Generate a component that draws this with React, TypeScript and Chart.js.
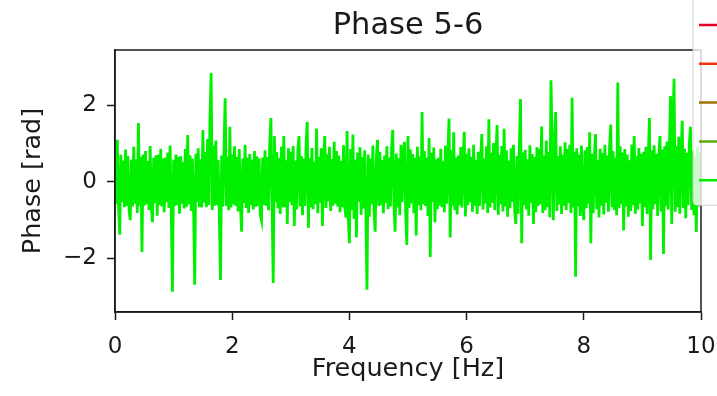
import { useEffect, useRef } from "react";
import { Chart, registerables } from "chart.js";

Chart.register(...registerables);

// Spectrum bin spacing of the phase series, in Hz
const FREQ_STEP = 0.02;

// Phase difference between channels 5 and 6, one value per bin (0 … 10 Hz)
const phase56: number[] = [
  0.62, -0.58, 1.1, -0.61, -1.38, 0.71, -0.52, 0.56, -0.66, 0.85, -0.63, 0.68, -0.74, -1.0, 0.58, -0.64, 0.92, -0.57, 0.59, -0.81, 1.54, -0.62, 0.66, -1.83, 0.72,
  -0.62, 0.81, -0.58, 0.55, -0.73, 0.94, -0.66, -1.05, 0.63, -0.55, 0.7, -0.88, 0.71, -0.6, 0.87, -0.64, 0.62, -0.79, 0.64, -0.53, 0.77, -0.68, 0.95, -0.71, -2.87,
  0.58, -0.63, 0.72, -0.61, 0.66, -0.83, 0.67, -0.57, 0.52, -0.69, 0.86, -0.65, 1.23, -0.58, 0.7, -0.76, 0.61, -0.62, -2.69, 0.74, -0.52, 0.88, -0.66, 0.59, -0.67,
  1.36, -0.54, 0.78, -0.66, 1.12, -0.6, 1.6, 2.85, -0.73, 0.95, -0.62, 1.08, -0.61, 0.57, -0.82, -2.56, 0.69, -0.64, 0.84, 2.19, -0.63, 0.66, -0.74, 1.44, -0.67,
  0.72, -0.59, 0.93, -0.63, 0.65, -0.77, 0.86, -0.6, -1.3, 0.61, -0.55, 0.97, -0.68, 0.64, -0.81, 0.73, -0.61, 0.58, -0.72, 0.81, -0.65, 0.67, -0.63, 0.62, -0.86,
  -1.0, 0.64, -0.6, 0.83, -0.62, 0.65, -0.74, 0.96, 1.67, -0.58, -2.64, 1.2, -0.53, 0.78, -0.69, 0.63, -0.84, 0.92, -0.66, 1.2, -0.66, 0.57, -1.1, 0.88, -0.52,
  0.79, -0.61, 0.94, -1.15, 0.56, -0.72, 0.83, 1.2, -0.64, 0.68, -0.87, 0.61, -0.63, 0.97, 1.57, -1.2, 0.62, -0.66, 0.89, -0.71, 0.53, -0.58, 1.4, -0.82, 0.66,
  -0.54, 0.88, -1.15, 0.63, 1.2, -0.68, 0.73, -0.51, 0.92, -0.76, 0.6, -0.62, 1.05, -0.57, 0.81, -0.64, 0.69, -0.79, 0.55, -0.66, 0.96, -0.63, -0.93, 1.33, -0.88,
  -1.6, 0.86, -0.74, 1.24, -0.97, 0.58, -1.45, 0.77, -0.52, 0.91, -0.86, 0.65, -0.69, 0.83, -0.62, -2.82, 0.72, -0.91, 0.61, -0.58, 0.95, -0.77, -1.3, 0.66, 1.1,
  -0.63, 0.79, -0.61, 0.57, -0.82, 0.69, -0.55, 0.93, -0.71, 0.64, -0.64, 0.88, 1.36, -0.59, -1.3, 0.74, -0.67, 0.62, -0.87, 0.97, -0.53, 0.71, 1.05, -0.76, -1.65,
  1.2, -0.68, 0.85, -0.56, 0.73, -0.82, 0.63, -1.4, 0.92, -0.61, 0.67, -0.74, 1.83, -0.58, 0.81, -0.63, 0.64, -0.89, 1.15, -1.96, 0.76, -0.52, 0.9, -1.05, 0.59,
  -0.71, 0.63, -0.62, 0.87, -0.66, 0.54, -0.79, 0.95, -0.57, 0.72, 1.66, -1.45, 0.83, -0.62, 1.3, -0.74, 0.64, -0.85, 0.69, -0.61, 0.91, -0.67, 0.58, 1.31, -0.9,
  0.74, -0.61, 0.88, -0.53, 0.66, -0.78, 0.97, -0.62, 0.57, -0.84, 0.79, -0.63, 0.64, 1.25, -0.72, 0.61, -0.56, 0.93, -0.81, 1.64, -0.67, 0.76, -0.54, 1.02, -0.73,
  0.62, 1.49, -0.86, 0.71, -0.58, 0.94, -0.77, 1.39, -0.64, 0.83, -0.91, 0.56, -0.69, 0.88, -0.52, 0.97, -0.74, -1.1, 0.68, -0.83, 0.92, 2.17, -1.6, 0.77, -0.61,
  0.84, -0.72, 0.59, -0.88, 0.96, -0.55, 0.73, -1.1, 0.65, -0.79, 0.91, -0.63, 0.87, -0.58, 1.45, -0.81, 0.69, -0.74, 1.08, -0.66, 0.78, -0.92, 2.66, 0.95, -1.0,
  1.1, 1.83, -0.76, 0.68, -0.59, 0.93, -0.84, 0.71, -0.62, 1.04, -0.73, 0.86, -0.55, 0.97, -0.81, 2.2, -0.67, 0.79, -2.48, 0.88, -0.64, 0.72, -0.89, 0.95, -0.58,
  -1.0, 0.83, -0.69, 0.91, -0.57, 1.3, -1.6, 0.74, -0.82, 0.66, 1.25, -0.71, 0.58, -0.93, 0.87, -0.62, 0.76, -0.85, 0.97, -0.54, 0.69, -0.78, 0.92, 1.5, -0.66,
  0.81, -0.73, 0.64, -0.87, 2.6, -0.69, 0.93, -0.58, 0.77, -1.27, 0.86, -0.64, 0.72, -0.91, 0.57, -0.76, 0.98, -0.61, 1.2, -0.83, 0.67, -0.72, 0.89, -0.56, 0.74,
  -1.15, 0.79, -0.66, 0.92, -0.84, 0.61, 1.67, -2.04, 0.83, -0.71, 0.96, -0.58, 0.74, -0.89, 0.68, 1.2, -0.77, 0.85, -1.88, 0.93, -0.63, 1.06, -0.72, 0.88, 2.25,
  -1.1, 1.52, 2.7, -0.78, 0.94, -0.66, 1.18, -0.83, 0.72, 1.6, -0.69, 0.87, -0.95, 0.76, -0.61, 0.99, 1.44, -0.73, 0.82, -0.87, 0.68, -1.31, 0.91, -0.64, 0.77,
  -0.55,
];

// Axis limits and tick positions
const xLimits = [0, 10];
const yLimits = [-3.4, 3.45];
const xTicks = [0, 2, 4, 6, 8, 10];
const yTicks = [-2, 0, 2];

// Legend entries shared by the phase panels
const legendLabels = ["Phase 1-2", "Phase 2-3", "Phase 3-4", "Phase 4-5", "Phase 5-6"];
const legendColors = ["#e4002b", "#f0360f", "#a07008", "#58ae0c", "#00f000"];

const TITLE = "Phase 5-6";
const INK = "#1a1a1a";
const FONT = "'DejaVu Sans', 'Liberation Sans', sans-serif";

// Panel title, centred over the plotting area
const panelTitle = {
  id: "panelTitle",
  afterDraw(chart: any) {
    const { ctx, chartArea: a } = chart;
    ctx.save();
    ctx.fillStyle = INK;
    ctx.font = `30.5px ${FONT}`;
    ctx.textAlign = "center";
    ctx.textBaseline = "middle";
    ctx.fillText(TITLE, (a.left + a.right) / 2, a.top - 24);
    ctx.restore();
  },
};

// Draws the four spines on top of the trace, as in a boxed axes
const boxFrame = {
  id: "boxFrame",
  afterDatasetsDraw(chart: any) {
    const { ctx, chartArea: a } = chart;
    ctx.save();
    ctx.strokeStyle = INK;
    ctx.lineWidth = 1.5;
    ctx.strokeRect(a.left, a.top, a.right - a.left, a.bottom - a.top);
    ctx.restore();
  },
};

// Semi-transparent legend that sits over the upper-right corner and runs past the canvas edge
const cornerLegend = {
  id: "cornerLegend",
  afterDraw(chart: any) {
    const { ctx, chartArea: a } = chart;
    const left = a.right - 8;
    const rowGap = 38.8;
    const firstRow = 25;
    const bottom = firstRow + rowGap * (legendLabels.length - 1) + 25;
    ctx.save();
    ctx.beginPath();
    const r = 4;
    const top = -20;
    const right = left + 300;
    ctx.moveTo(left + r, top);
    ctx.lineTo(right, top);
    ctx.lineTo(right, bottom);
    ctx.lineTo(left + r, bottom);
    ctx.arcTo(left, bottom, left, bottom - r, r);
    ctx.lineTo(left, top);
    ctx.closePath();
    ctx.fillStyle = "rgba(255,255,255,0.8)";
    ctx.fill();
    ctx.strokeStyle = "rgba(204,204,204,0.9)";
    ctx.lineWidth = 1;
    ctx.stroke();

    legendLabels.forEach((label, i) => {
      const y = firstRow + rowGap * i;
      ctx.strokeStyle = legendColors[i];
      ctx.lineWidth = 2.5;
      ctx.beginPath();
      ctx.moveTo(left + 6, y);
      ctx.lineTo(left + 46, y);
      ctx.stroke();
      ctx.fillStyle = INK;
      ctx.font = `23px ${FONT}`;
      ctx.textBaseline = "middle";
      ctx.fillText(label, left + 58, y);
    });
    ctx.restore();
  },
};

export default function App() {
  const canvasRef = useRef<HTMLCanvasElement | null>(null);

  useEffect(() => {
    document.body.style.margin = "0";
    const canvas = canvasRef.current;
    if (!canvas) return;

    const points = phase56.map((v, i) => ({ x: i * FREQ_STEP, y: v }));

    const chart = new Chart(canvas, {
      type: "line",
      data: {
        datasets: [
          {
            label: legendLabels[4],
            data: points,
            borderColor: legendColors[4],
            borderWidth: 2.8,
            pointRadius: 0,
            tension: 0,
            fill: false,
          },
        ],
      },
      options: {
        animation: false,
        responsive: false,
        devicePixelRatio: 1,
        layout: { padding: { left: 0, right: 16, top: 50, bottom: 0 } },
        font: { family: FONT },
        plugins: {
          legend: { display: false },
          tooltip: { enabled: false },
          title: { display: false },
        },
        scales: {
          x: {
            type: "linear",
            min: xLimits[0],
            max: xLimits[1],
            afterBuildTicks: (s: any) => {
              s.ticks = xTicks.map((value) => ({ value }));
            },
            afterFit: (s: any) => {
              s.height = 84;
              s.paddingLeft = 0;
              s.paddingRight = 0;
            },
            grid: {
              display: true,
              drawOnChartArea: false,
              drawTicks: true,
              tickLength: 8,
              tickWidth: 1.5,
              tickColor: INK,
            },
            border: { display: true, color: INK, width: 1.5 },
            ticks: {
              color: INK,
              font: { family: FONT, size: 23 },
              padding: 13,
              maxRotation: 0,
              autoSkip: false,
              callback: (v: any) => String(v),
            },
            title: {
              display: true,
              text: "Frequency [Hz]",
              color: INK,
              font: { family: FONT, size: 25.5 },
              padding: { top: 0, bottom: 11 },
            },
          },
          y: {
            type: "linear",
            min: yLimits[0],
            max: yLimits[1],
            afterBuildTicks: (s: any) => {
              s.ticks = yTicks.map((value) => ({ value }));
            },
            afterFit: (s: any) => {
              s.width = 115;
              s.paddingTop = 0;
              s.paddingBottom = 0;
            },
            grid: {
              display: true,
              drawOnChartArea: false,
              drawTicks: true,
              tickLength: 8,
              tickWidth: 1.5,
              tickColor: INK,
            },
            border: { display: true, color: INK, width: 1.5 },
            ticks: {
              color: INK,
              font: { family: FONT, size: 23 },
              padding: 10,
              autoSkip: false,
              callback: (v: any) => (Number(v) < 0 ? "\u2212" + Math.abs(Number(v)) : String(v)),
            },
            title: {
              display: true,
              text: "Phase [rad]",
              color: INK,
              font: { family: FONT, size: 25.5 },
              padding: { top: 18, bottom: 0 },
            },
          },
        },
      },
      plugins: [boxFrame, panelTitle, cornerLegend],
    });

    return () => chart.destroy();
  }, []);

  return <canvas ref={canvasRef} width={717} height={396} style={{ display: "block" }} />;
}
